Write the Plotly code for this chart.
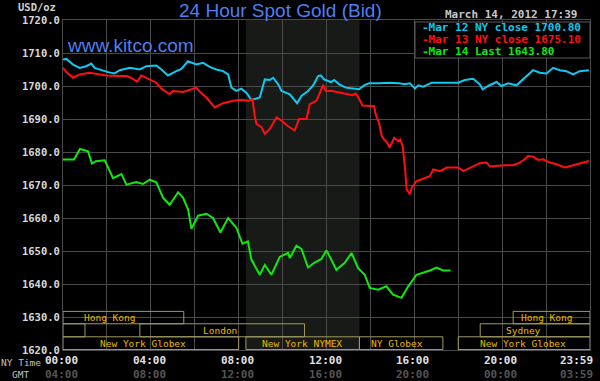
import plotly.graph_objects as go

# ---------------- data ----------------
cyan_hours = [0.00, 0.15, 0.46, 0.76, 1.06, 1.29, 1.44, 1.75, 2.05, 2.35, 2.58, 3.04, 3.49, 3.80,
              4.25, 4.48, 4.78, 5.16, 5.39, 5.69, 6.07, 6.38, 6.68, 6.99, 7.29, 7.52, 7.67, 7.90,
              8.12, 8.35, 8.58, 8.81, 8.96, 9.19, 9.42, 9.57, 9.80, 9.95, 10.33, 10.66, 10.86,
              11.16, 11.39, 11.62, 11.74, 11.89, 12.07, 12.20, 12.35, 12.58, 12.88, 13.18, 13.48,
              13.71, 13.94, 14.39, 14.85, 15.30, 15.58, 15.80, 16.03, 16.18, 16.41, 16.79, 17.32,
              18.00, 18.30, 18.68, 18.98, 19.11, 19.36, 19.74, 19.97, 20.27, 20.65, 20.95, 21.18,
              21.41, 21.71, 22.02, 22.32, 22.62, 22.92, 23.23, 23.53, 23.95]
cyan_values = [1708.0, 1708.2, 1706.5, 1705.5, 1706.0, 1706.8, 1705.5, 1704.8, 1704.2, 1703.8, 1704.8,
               1705.5, 1705.0, 1706.0, 1706.2, 1705.0, 1703.2, 1704.5, 1705.2, 1707.5, 1706.5, 1707.0,
               1705.8, 1705.0, 1704.5, 1703.5, 1699.5, 1698.5, 1699.2, 1698.0, 1695.8, 1696.2, 1696.5,
               1702.0, 1701.8, 1702.5, 1700.5, 1698.5, 1697.5, 1694.8, 1697.0, 1698.5, 1700.2, 1703.0,
               1703.2, 1702.0, 1701.5, 1701.2, 1701.8, 1700.5, 1699.5, 1699.2, 1699.0, 1700.2, 1700.8,
               1700.8, 1701.0, 1700.8, 1700.5, 1700.8, 1699.2, 1700.2, 1699.8, 1701.0, 1701.0, 1701.0,
               1701.8, 1702.2, 1700.5, 1699.0, 1700.0, 1701.2, 1700.0, 1700.8, 1700.2, 1702.0, 1703.5,
               1704.8, 1704.0, 1703.8, 1705.5, 1704.8, 1704.5, 1703.5, 1704.5, 1704.8]

red_hours = [0.00, 0.15, 0.46, 0.76, 1.21, 1.67, 1.97, 2.43, 2.89, 3.10, 3.37, 3.57, 3.95, 4.25,
             4.48, 4.86, 5.00, 5.47, 5.85, 6.07, 6.20, 6.53, 6.91, 7.29, 7.75, 8.12, 8.43, 8.63,
             8.73, 8.81, 9.04, 9.19, 9.42, 9.72, 9.95, 10.25, 10.55, 10.75, 11.09, 11.24, 11.54,
             11.77, 11.85, 11.97, 12.27, 12.58, 12.88, 13.18, 13.33, 13.45, 13.64, 13.94, 14.17,
             14.24, 14.39, 14.52, 14.62, 14.77, 14.88, 15.08, 15.27, 15.35, 15.47, 15.58, 15.65,
             15.80, 15.88, 16.10, 16.41, 16.71, 16.86, 17.17, 17.47, 18.00, 18.23, 18.60, 18.98,
             19.29, 19.44, 19.82, 20.12, 20.50, 20.80, 21.03, 21.18, 21.41, 21.64, 21.86, 22.17,
             22.47, 22.85, 23.23, 23.61, 23.95]
red_values = [1705.5, 1704.2, 1702.5, 1703.5, 1704.0, 1703.5, 1703.2, 1703.0, 1703.0, 1702.5, 1701.3,
              1703.2, 1702.0, 1701.0, 1699.2, 1697.5, 1698.5, 1698.2, 1699.0, 1699.5, 1698.5, 1696.5,
              1693.5, 1694.8, 1695.5, 1695.8, 1695.5, 1696.0, 1691.0, 1688.5, 1687.5, 1685.5, 1687.0,
              1690.5, 1689.5, 1687.8, 1686.5, 1690.0, 1690.0, 1694.5, 1695.5, 1699.0, 1700.3, 1698.5,
              1698.5, 1698.0, 1697.5, 1697.2, 1697.7, 1696.5, 1694.1, 1693.9, 1693.9, 1691.4, 1688.9,
              1684.8, 1683.8, 1682.8, 1681.3, 1684.3, 1683.3, 1683.8, 1681.8, 1674.7, 1668.7, 1667.2,
              1669.2, 1671.2, 1671.9, 1672.7, 1674.7, 1674.2, 1675.3, 1675.3, 1674.2, 1675.3, 1676.6,
              1676.8, 1675.6, 1675.8, 1676.0, 1676.0, 1676.8, 1677.8, 1678.8, 1678.6, 1677.6, 1677.8,
              1676.8, 1676.3, 1675.3, 1676.0, 1676.8, 1677.3]

green_hours = [0.00, 0.50, 0.77, 1.14, 1.32, 1.50, 1.90, 2.05, 2.28, 2.66, 2.89, 3.34, 3.64, 3.95,
               4.25, 4.56, 4.86, 5.24, 5.47, 5.70, 5.85, 6.15, 6.53, 6.83, 7.17, 7.52, 7.90, 8.17,
               8.42, 8.58, 8.96, 9.19, 9.49, 9.87, 10.25, 10.33, 10.63, 10.86, 11.16, 11.46, 11.77,
               12.00, 12.22, 12.45, 12.83, 13.14, 13.44, 13.74, 13.97, 14.35, 14.73, 15.03, 15.42,
               15.72, 16.10, 16.48, 16.71, 17.01, 17.31, 17.65]
green_values = [1677.7, 1677.7, 1680.9, 1680.2, 1676.5, 1677.2, 1677.5, 1675.2, 1672.1, 1673.3, 1670.1,
                1670.9, 1670.3, 1671.6, 1670.8, 1666.1, 1664.0, 1667.8, 1666.1, 1662.5, 1656.7, 1660.7,
                1661.3, 1660.0, 1655.6, 1660.0, 1657.0, 1652.2, 1652.9, 1647.4, 1642.8, 1645.8, 1642.8,
                1648.2, 1649.4, 1647.9, 1651.6, 1650.6, 1645.0, 1646.5, 1647.6, 1650.2, 1647.4, 1644.3,
                1646.4, 1649.4, 1644.8, 1642.8, 1638.8, 1638.3, 1639.3, 1636.8, 1635.8, 1639.3, 1642.8,
                1643.5, 1644.1, 1645.0, 1644.1, 1644.1]

series_names = ["Mar 12 NY close 1700.80", "Mar 13 NY close 1675.10", "Mar 14 Last 1643.80"]

# trading sessions (NY time hours): name, start, end, row, label hour
session_names = ["Hong Kong", "", "London", "New York Globex", "New York NYMEX", "NY Globex",
                 "New York Globex", "Sydney", "Hong Kong"]
session_start = [0.0, 0.0, 3.5, 0.0, 8.33, 13.5, 18.0, 19.0, 20.5]
session_end = [5.5, 1.0, 11.0, 8.0, 13.5, 17.3, 24.0, 24.0, 24.0]
session_row = [1, 2, 2, 3, 3, 3, 3, 2, 1]
session_label_hour = [2.13, 0.5, 7.15, 3.63, 10.9, 15.19, 20.96, 20.96, 22.04]
nymex_start, nymex_end = 8.33, 13.5

ny_tick_hours = [0, 4, 8, 12, 16, 20, 24]
ny_tick_labels = ["00:00", "04:00", "08:00", "12:00", "16:00", "20:00", "23:59"]
gmt_tick_labels = ["04:00", "08:00", "12:00", "16:00", "20:00", "00:00", "03:59"]

# ---------------- style ----------------
COLORS = ["#10c8f0", "#ff1010", "#10e810"]
BLUE = "#4f7ff0"
GRID = "#4a4a4a"
MONO = "DejaVu Sans Mono"
SESS_LINE = "#a09a60"
SESS_TEXT = "#e8bc00"
row_bounds = {1: (1627.95, 1631.7), 2: (1624.0, 1627.95), 3: (1620.15, 1624.0)}

W, H = 600, 381
ML, MR, MT, MB = 63, 10, 20, 31
PW, PH = W - ML - MR, H - MT - MB


def px(x):
    return (x - ML) / PW


def py(y):
    return (H - MB - y) / PH


fig = go.Figure()
for hrs, vals, name, col in zip([cyan_hours, red_hours, green_hours],
                                [cyan_values, red_values, green_values],
                                series_names, COLORS):
    fig.add_trace(go.Scatter(x=hrs, y=vals, mode="lines", name=name,
                             line=dict(color=col, width=2), showlegend=False))

shapes = []
# NYMEX shaded band
shapes.append(dict(type="rect", xref="x", yref="paper", x0=nymex_start, x1=nymex_end, y0=0, y1=1,
                   fillcolor="#181a18", line=dict(width=0), layer="below"))
annotations = []
for name, s, e, r, lh in zip(session_names, session_start, session_end, session_row, session_label_hour):
    y0, y1 = row_bounds[r]
    shapes.append(dict(type="rect", xref="x", yref="y", x0=s, x1=e, y0=y0, y1=y1,
                       line=dict(color=SESS_LINE, width=1), fillcolor="rgba(0,0,0,0)", layer="above"))
    if name:
        annotations.append(dict(x=lh, y=(y0 + y1) / 2, xref="x", yref="y", text=name, showarrow=False,
                                font=dict(family=MONO, size=9.5, color=SESS_TEXT),
                                xanchor="center", yanchor="middle"))

# legend box
shapes.append(dict(type="rect", xref="paper", yref="paper", x0=px(415), x1=1.0, y0=py(58), y1=py(22),
                   fillcolor="#000000", line=dict(color="#5a5a5a", width=1), layer="above"))
for i, (name, col) in enumerate(zip(series_names, COLORS)):
    annotations.append(dict(x=px(420), y=py(27.5 + 12.2 * i), xref="paper", yref="paper",
                            text="-" + name, showarrow=False, xanchor="left", yanchor="middle",
                            font=dict(family=MONO, size=11, color=col, weight="bold")))

# titles and texts
annotations += [
    dict(x=px(280.5), y=py(10), xref="paper", yref="paper", text="24 Hour Spot Gold (Bid)",
         showarrow=False, xanchor="center", yanchor="middle",
         font=dict(family="Liberation Sans", size=19, color=BLUE)),
    dict(x=px(65), y=py(46), xref="paper", yref="paper", text="www.kitco.com",
         showarrow=False, xanchor="left", yanchor="middle",
         font=dict(family="Liberation Sans", size=19, color=BLUE)),
    dict(x=px(579), y=py(14), xref="paper", yref="paper", text="March 14, 2012 17:39",
         showarrow=False, xanchor="right", yanchor="middle",
         font=dict(family=MONO, size=11, color="#c8c8c8", weight="bold")),
    dict(x=px(58), y=py(7), xref="paper", yref="paper", text="USD/oz",
         showarrow=False, xanchor="right", yanchor="middle",
         font=dict(family=MONO, size=10.5, color="#d0d0d0", weight="bold")),
    dict(x=px(43), y=py(362), xref="paper", yref="paper", text="NY Time",
         showarrow=False, xanchor="right", yanchor="middle",
         font=dict(family=MONO, size=9.5, color="#c0c0c0")),
    dict(x=px(20), y=py(374), xref="paper", yref="paper", text="GMT",
         showarrow=False, xanchor="center", yanchor="middle",
         font=dict(family=MONO, size=9.5, color="#c0c0c0")),
]
for i, (h, ny, gmt) in enumerate(zip(ny_tick_hours, ny_tick_labels, gmt_tick_labels)):
    last = i == len(ny_tick_hours) - 1
    common = dict(x=h, xref="x", yref="paper", showarrow=False,
                  xanchor="right" if last else "center", yanchor="middle",
                  xshift=5 if last else -1.5)
    annotations.append(dict(common, y=py(360.5), text=ny,
                            font=dict(family=MONO, size=11, color="#e0e0e0", weight="bold")))
    annotations.append(dict(common, y=py(374.5), text=gmt,
                            font=dict(family=MONO, size=11, color="#555555", weight="bold")))

fig.update_layout(
    width=W, height=H,
    margin=dict(l=ML, r=MR, t=MT, b=MB),
    paper_bgcolor="#000000", plot_bgcolor="#000000",
    shapes=shapes, annotations=annotations, showlegend=False,
    xaxis=dict(range=[0, 24], tick0=0, dtick=2, showticklabels=False, showgrid=True,
               gridcolor=GRID, gridwidth=1, zeroline=False, showline=True, mirror=True,
               linecolor=GRID, linewidth=1, ticks=""),
    yaxis=dict(range=[1620, 1720], tick0=1620, dtick=10, tickformat=".1f", showgrid=True,
               gridcolor=GRID, gridwidth=1, zeroline=False, showline=True, mirror=True,
               linecolor=GRID, linewidth=1, ticks="", ticklabelstandoff=0,
               tickfont=dict(family=MONO, size=10.5, color="#d8d8d8", weight="bold")),
)

fig.write_html("out.html", config={"displayModeBar": False},
               post_script="document.body.style.margin='0';document.body.style.background='#000';")
